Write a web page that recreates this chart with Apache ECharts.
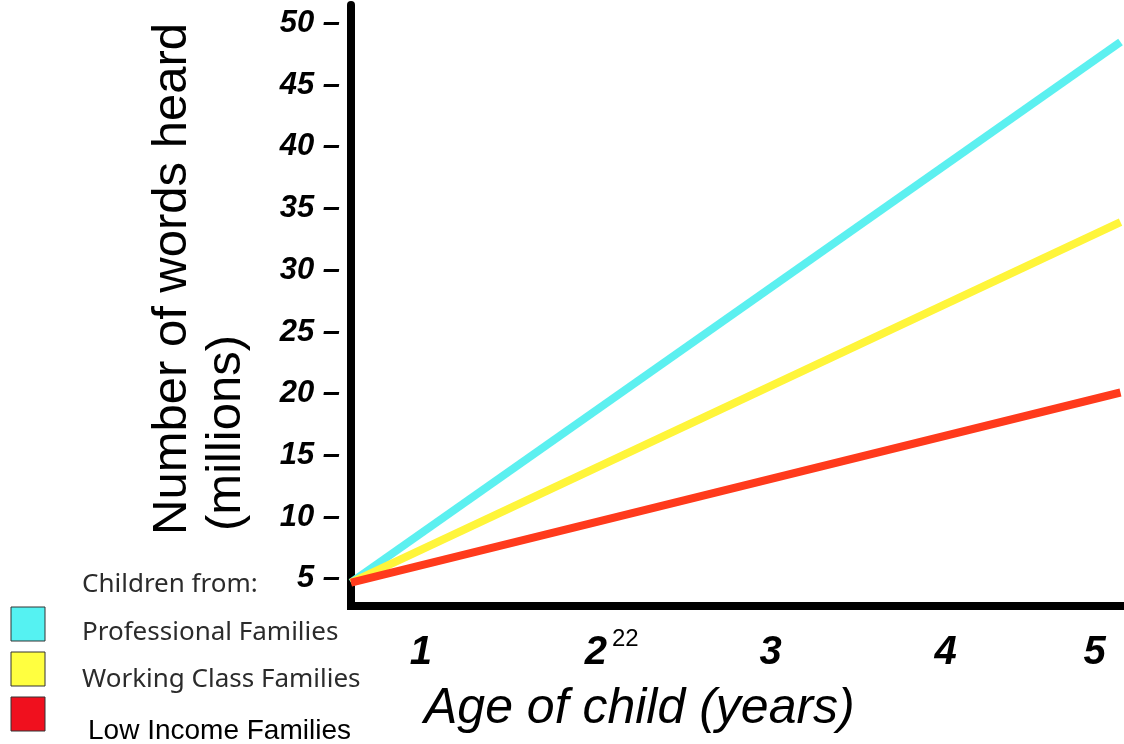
<!DOCTYPE html>
<html>
<head>
<meta charset="utf-8">
<style>
  html, body { margin: 0; padding: 0; background: #fff; }
  #chart { width: 1124px; height: 744px; }
</style>
<script src="https://cdn.jsdelivr.net/npm/echarts@6/dist/echarts.min.js"></script>
</head>
<body>
<div id="chart"></div>
<script>
// Cumulative words heard by a child, in millions, by age
const seriesNames = ['Professional Families', 'Working Class Families', 'Low Income Families'];
const ages = [0.6, 5];
const professional = [4.7, 48.5];
const workingClass = [4.7, 33.9];
const lowIncome = [4.7, 20.1];

const yTicks = [5, 10, 15, 20, 25, 30, 35, 40, 45, 50];
const xTicks = [1, 2, 3, 4, 5];

const lineColors = ['#5cf0f0', '#fff53a', '#ff3a1c'];
const swatchColors = ['#55f2f2', '#ffff40', '#f0101e'];

const toPoints = (vals) => ages.map((a, i) => [a, vals[i]]);

const chart = echarts.init(document.getElementById('chart'), null, { renderer: 'canvas' });

const graphic = [
  // y-axis title, two rotated lines
  { type: 'text', x: 172, y: 535, rotation: Math.PI / 2,
    style: { text: 'Number of words heard', font: '49px "Liberation Sans", Arial, sans-serif',
             fill: '#000', textAlign: 'left', textVerticalAlign: 'middle' } },
  { type: 'text', x: 226, y: 531, rotation: Math.PI / 2,
    style: { text: '(millions)', font: '49px "Liberation Sans", Arial, sans-serif',
             fill: '#000', textAlign: 'left', textVerticalAlign: 'middle' } },
  // x-axis title
  { type: 'text', x: 424, y: 709,
    style: { text: 'Age of child (years)', font: 'italic 50px "Liberation Sans", Arial, sans-serif',
             fill: '#000', textAlign: 'left', textVerticalAlign: 'middle' } },
  // page number
  { type: 'text', x: 612, y: 639,
    style: { text: '22', font: '24px "Liberation Sans", Arial, sans-serif',
             fill: '#000', textAlign: 'left', textVerticalAlign: 'middle' } },
  // key
  { type: 'text', x: 82, y: 585,
    style: { text: 'Children from:', font: '26px "Noto Sans", sans-serif',
             fill: '#2b2b2b', textAlign: 'left', textVerticalAlign: 'middle' } }
];

const keyTop = [607, 652, 697];
const keyTextY = [633, 680, 731];
seriesNames.forEach((name, i) => {
  graphic.push({ type: 'rect', shape: { x: 11, y: keyTop[i], width: 34, height: 34 },
    style: { fill: swatchColors[i], stroke: '#333', lineWidth: 1 } });
  const last = i === seriesNames.length - 1;
  graphic.push({ type: 'text', x: last ? 88 : 82, y: keyTextY[i],
    style: { text: name,
             font: last ? '28px "Liberation Sans", Arial, sans-serif' : '26px "Noto Sans", sans-serif',
             fill: last ? '#000' : '#2b2b2b', textAlign: 'left', textVerticalAlign: 'middle' } });
});

chart.setOption({
  animation: false,
  backgroundColor: '#fff',
  grid: { left: 351, right: 0, top: 5, bottom: 138, containLabel: false },
  xAxis: {
    type: 'value', min: 0.6, max: 5.02,
    axisLine: { show: true, lineStyle: { color: '#000', width: 8, cap: 'square' } },
    axisTick: { show: false },
    splitLine: { show: false },
    axisLabel: {
      customValues: xTicks, margin: 27,
      formatter: (v) => v === 5 ? '{last|5}' : String(v),
      fontFamily: '"Liberation Sans", Arial, sans-serif', fontStyle: 'italic', fontWeight: 'bold',
      fontSize: 40, color: '#000',
      rich: { last: { padding: [0, 52, 0, 0], fontFamily: '"Liberation Sans", Arial, sans-serif',
                      fontStyle: 'italic', fontWeight: 'bold', fontSize: 40, color: '#000' } }
    }
  },
  yAxis: {
    type: 'value', min: 2.8, max: 51.5,
    axisLine: { show: true, lineStyle: { color: '#000', width: 8 } },
    axisTick: { show: false },
    splitLine: { show: false },
    axisLabel: {
      customValues: yTicks, margin: 11,
      formatter: (v) => v + ' \u2013',
      fontFamily: '"Liberation Sans", Arial, sans-serif', fontStyle: 'italic', fontWeight: 'bold',
      fontSize: 31, color: '#000'
    }
  },
  series: [professional, workingClass, lowIncome].map((vals, i) => ({
    name: seriesNames[i], type: 'line', data: toPoints(vals),
    symbol: 'none', lineStyle: { color: lineColors[i], width: 8 },
    itemStyle: { color: lineColors[i] }, silent: true
  })),
  graphic: graphic
});
</script>
</body>
</html>
